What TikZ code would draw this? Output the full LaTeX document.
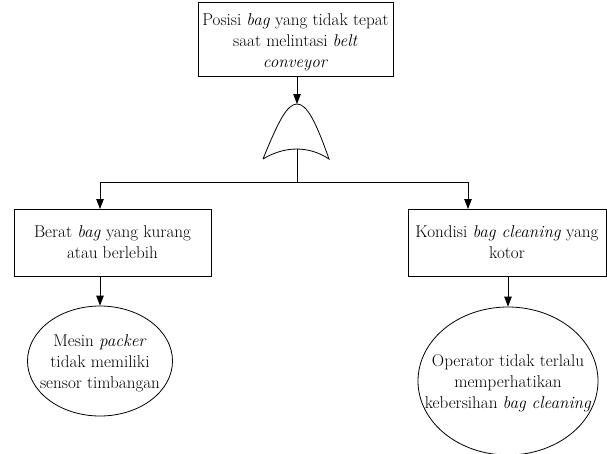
\documentclass[tikz,border=0pt]{standalone}
\usetikzlibrary{arrows.meta,shapes.geometric}
\begin{document}
\begin{tikzpicture}[x=1pt,y=-1pt,
  every node/.style={font=\fontsize{17.1}{21}\selectfont},
  ln/.style={line width=0.8pt},
  arr/.style={ln,-{Triangle[length=10pt,width=7.5pt]}},
  eventbox/.style={draw,ln,rectangle,inner sep=0pt,align=center},
  causeshape/.style={draw,ln,ellipse,inner sep=0pt},
  causetext/.style={align=center,inner sep=0pt}]
\useasboundingbox (0,0) rectangle (607,453);

% top event
\node[eventbox,minimum width=195pt,minimum height=74pt] (top) at (295.5,39) {};
\node[causetext] (toptext) at (295.5,42)
  {Posisi \textit{bag} yang tidak tepat\\saat melintasi \textit{belt}\\\textit{conveyor}};

% OR gate
\coordinate (gtop) at (297,104);
\coordinate (gbot) at (297,149);
\coordinate (split) at (297,182);
\draw[ln] (263,159) .. controls (278,122) and (287,104) .. (gtop)
  .. controls (307,104) and (316,122) .. (329,159)
  .. controls (309,145.7) and (285,145.7) .. (263,159);

% intermediate events
\node[eventbox,minimum width=197pt,minimum height=67pt] (b1) at (112.5,242.5)
  {Berat \textit{bag} yang kurang\\atau berlebih};
\node[eventbox,minimum width=198pt,minimum height=67pt] (b2) at (507,242.5)
  {Kondisi \textit{bag cleaning} yang\\kotor};

% basic events
\node[causeshape,minimum width=145pt,minimum height=110pt] (e1) at (100,361) {};
\node[causetext] (t1) at (100,363.5) {Mesin \textit{packer}\\tidak memiliki\\sensor timbangan};
\node[causeshape,minimum width=180pt,minimum height=148pt] (e2) at (508,381) {};
\node[causetext] (t2) at (508,383.5) {Operator tidak terlalu\\memperhatikan\\kebersihan \textit{bag cleaning}};

\coordinate (b1in) at (100,209);
\coordinate (b2in) at (468,209);

% connectors
\draw[arr] (top.south -| gtop) -- (gtop);
\draw[ln] (gbot) -- (split);
\draw[arr] (split) -| (b1in);
\draw[arr] (split) -| (b2in);
\draw[arr] (b1.south -| e1.north) -- (e1.north);
\draw[arr] (b2.south -| e2.north) -- (e2.north);
\end{tikzpicture}
\end{document}
